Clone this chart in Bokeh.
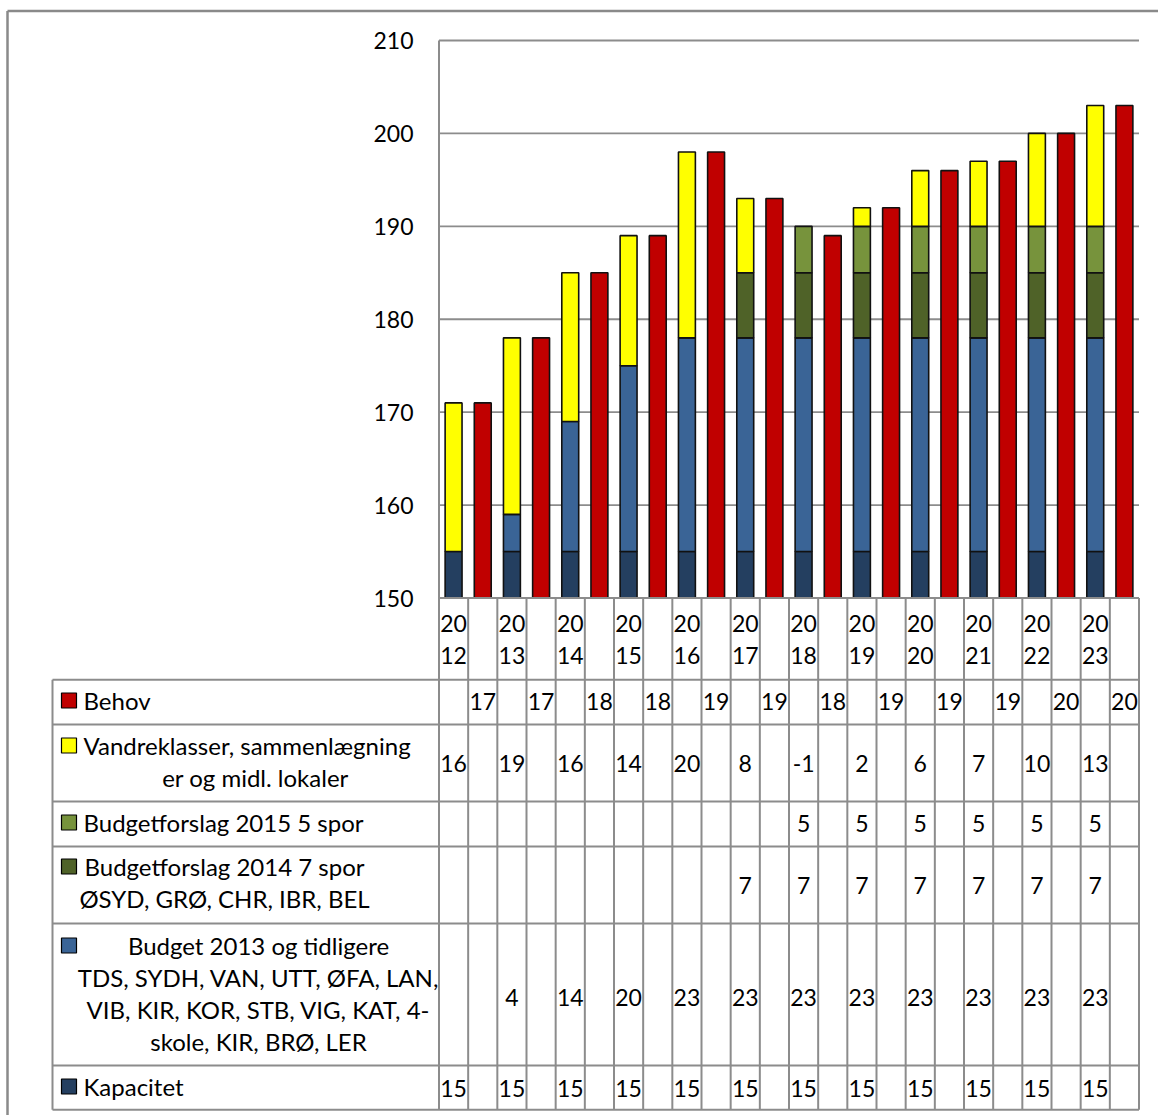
from bokeh.plotting import figure
from bokeh.models import Range1d
from bokeh.core.properties import value
from bokeh.embed import file_html
from bokeh.resources import INLINE

# ---------------- data ----------------
years = [2012, 2013, 2014, 2015, 2016, 2017, 2018, 2019, 2020, 2021, 2022, 2023]
behov = [171, 178, 185, 189, 198, 193, 189, 192, 196, 197, 200, 203]
vandreklasser = [16, 19, 16, 14, 20, 8, -1, 2, 6, 7, 10, 13]
budget2015 = [None, None, None, None, None, None, 5, 5, 5, 5, 5, 5]
budget2014 = [None, None, None, None, None, 7, 7, 7, 7, 7, 7, 7]
budget2013 = [None, 4, 14, 20, 23, 23, 23, 23, 23, 23, 23, 23]
kapacitet = [155, 155, 155, 155, 155, 155, 155, 155, 155, 155, 155, 155]
y_ticks = [150, 160, 170, 180, 190, 200, 210]

label_behov = ["Behov"]
label_vandre = ["Vandreklasser, sammenlægning", "er og midl. lokaler"]
label_b2015 = ["Budgetforslag 2015 5 spor"]
label_b2014 = ["Budgetforslag 2014 7 spor", "ØSYD, GRØ, CHR, IBR, BEL"]
label_b2013 = ["Budget 2013 og tidligere", "TDS, SYDH, VAN, UTT, ØFA, LAN,",
               "VIB, KIR, KOR, STB, VIG, KAT, 4-", "skole, KIR, BRØ, LER"]
label_kap = ["Kapacitet"]

C_BEHOV = "#C00000"
C_VANDRE = "#FFFF00"
C_B2015 = "#77933C"
C_B2014 = "#4F6228"
C_B2013 = "#3A6496"
C_KAP = "#243F60"

FONT = "Lato"
FS_LABEL = "24px"
FS_NUM = "23px"
GRID = "#8c8c8c"

# ---------------- layout constants (page pixels) ----------------
W, H = 1158, 1115
FRAME_L, FRAME_R = 438.5, 1138.5      # plot area / table data columns
Y150, Y210 = 597.5, 40.0              # vertical position of 150 and 210
SW = (FRAME_R - FRAME_L) / 24.0       # slot width
PXU = (Y150 - Y210) / 60.0            # pixels per value unit
YMIN, YMAX = y_ticks[0], y_ticks[-1]  # value axis extent


def px(xpage):
    return (xpage - FRAME_L) / SW


p = figure(width=W, height=H, output_backend="svg", toolbar_location=None,
           x_range=Range1d(px(0), px(W)), y_range=Range1d(H, 0),
           x_axis_type=None, y_axis_type=None, min_border=0,
           outline_line_color=None)
p.extra_y_ranges = {"val": Range1d(YMIN - (H - Y150) / PXU, YMAX + Y210 / PXU)}
p.grid.visible = False

# outer chart border (left & top visible in the crop)
p.segment(x0=[px(7), px(7)], y0=[10.5, 10.5], x1=[px(7), px(W + 5)], y1=[H + 5, 10.5],
          line_color="#8a8a8a", line_width=2.5)

# horizontal value gridlines 160..210
gt = [t for t in y_ticks if t > YMIN]
p.segment(x0=[0] * len(gt), y0=gt, x1=[24] * len(gt), y1=gt, y_range_name="val",
          line_color=GRID, line_width=1.8)
# value axis line
p.segment(x0=[0], y0=[YMIN], x1=[0], y1=[YMAX], y_range_name="val",
          line_color=GRID, line_width=2)
# value tick labels
p.text(x=[px(413)] * len(y_ticks), y=y_ticks, text=[str(t) for t in y_ticks],
       y_range_name="val", text_font=value(FONT), text_font_size=value(FS_NUM),
       text_align="right", text_baseline="middle", text_color="black")

# ---------------- bars (clipped at the axis minimum, like the original) ----------------
stack_series = [(kapacitet, C_KAP), (budget2013, C_B2013), (budget2014, C_B2014),
                (budget2015, C_B2015), (vandreklasser, C_VANDRE)]
cum = [0.0] * len(years)
for vals, col in stack_series:
    xs, bots, tops = [], [], []
    for i, v in enumerate(vals):
        if v is None:
            continue
        if v >= 0:
            b, t = cum[i], cum[i] + v
            cum[i] = t
        else:
            continue          # negative part lies below the axis: not visible
        if t <= YMIN:
            continue
        xs.append(2 * i + 0.5)
        bots.append(max(b, YMIN))
        tops.append(min(t, YMAX))
    p.vbar(x=xs, bottom=bots, top=tops, width=0.58, fill_color=col,
           line_color="#111111", line_width=1.6, y_range_name="val")

p.vbar(x=[2 * i + 1.5 for i in range(len(years))], bottom=YMIN,
       top=[min(v, YMAX) for v in behov], width=0.58,
       fill_color=C_BEHOV, line_color="#111111", line_width=1.6, y_range_name="val")

# ---------------- data table ----------------
ROW_EDGES = [Y150, 679.3, 724, 801, 846, 923, 1065, 1109.3]
TBL_L = 52
x0s, y0s, x1s, y1s = [], [], [], []
for k, ye in enumerate(ROW_EDGES):
    x0s.append(0 if k == 0 else px(TBL_L))
    x1s.append(24)
    y0s.append(ye)
    y1s.append(ye)
for s in range(25):
    x0s.append(s); x1s.append(s)
    y0s.append(ROW_EDGES[0]); y1s.append(ROW_EDGES[-1])
x0s.append(px(TBL_L)); x1s.append(px(TBL_L))
y0s.append(ROW_EDGES[1]); y1s.append(ROW_EDGES[-1])
p.segment(x0=x0s, y0=y0s, x1=x1s, y1=y1s, line_color=GRID, line_width=2)

# category labels (wrapped year)
hx, hy, ht = [], [], []
for i, yr in enumerate(years):
    s = str(yr)
    hx += [2 * i + 0.5, 2 * i + 0.5]
    hy += [623, 655]
    ht += [s[:2], s[2:]]
p.text(x=hx, y=hy, text=ht, text_font=value(FONT), text_font_size=value(FS_NUM),
       text_align="center", text_baseline="middle", text_color="black")


def cell_text(v):
    if v is None:
        return ""
    s = str(v)
    return s if len(s) <= 2 else s[:2]   # narrow cell clips the number


rows = [
    # values, in Behov slot?, value y, colour, label lines, centre x (None = left), line ys
    (behov, True, 701, C_BEHOV, label_behov, None, [700]),
    (vandreklasser, False, 763, C_VANDRE, label_vandre, 255, [745, 777]),
    (budget2015, False, 823, C_B2015, label_b2015, None, [822]),
    (budget2014, False, 885, C_B2014, label_b2014, 224, [866, 898]),
    (budget2013, False, 997, C_B2013, label_b2013, 258, [945, 977, 1009, 1041]),
    (kapacitet, False, 1088, C_KAP, label_kap, None, [1086]),
]

vx, vy, vt = [], [], []
lx_left, ly_left, lt_left = [], [], []
lx_c, ly_c, lt_c = [], [], []
kx, ky, kc = [], [], []
for vals, odd, yv, col, lines, cx, lys in rows:
    for i, v in enumerate(vals):
        vx.append(2 * i + (1.5 if odd else 0.5))
        vy.append(yv)
        vt.append(cell_text(v))
    kx.append(px(68.5)); ky.append(lys[0]); kc.append(col)
    for j, (ln, yy) in enumerate(zip(lines, lys)):
        if cx is None or (lines is label_vandre and j == 0):
            lx_left.append(px(83)); ly_left.append(yy); lt_left.append(ln)
        else:
            lx_c.append(px(cx)); ly_c.append(yy); lt_c.append(ln)

p.text(x=vx, y=vy, text=vt, text_font=value(FONT), text_font_size=value(FS_NUM),
       text_align="center", text_baseline="middle", text_color="black")
p.text(x=lx_left, y=ly_left, text=lt_left, text_font=value(FONT),
       text_font_size=value(FS_LABEL), text_align="left", text_baseline="middle",
       text_color="black")
p.text(x=lx_c, y=ly_c, text=lt_c, text_font=value(FONT), text_font_size=value(FS_LABEL),
       text_align="center", text_baseline="middle", text_color="black")
p.scatter(x=kx, y=ky, marker="square", size=15, fill_color=kc,
          line_color="black", line_width=1.2)

open("out.html", "w").write(file_html(p, INLINE))
